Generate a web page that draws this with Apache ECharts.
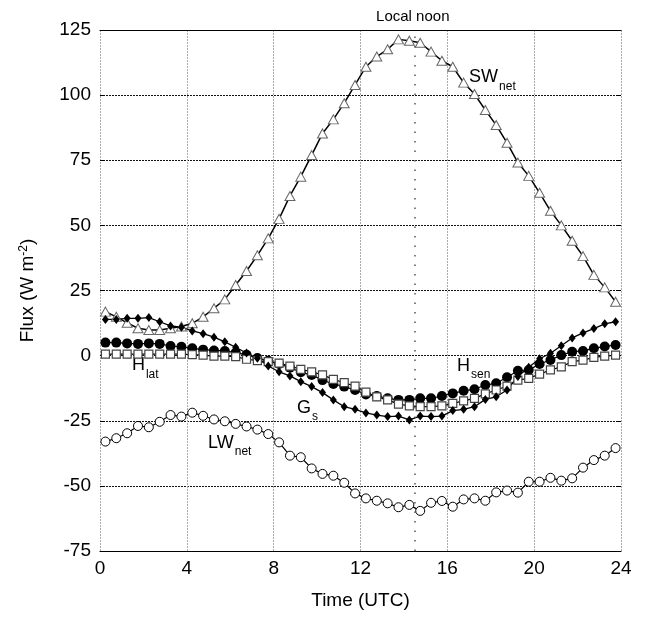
<!DOCTYPE html>
<html><head><meta charset="utf-8">
<script src="https://cdn.jsdelivr.net/npm/echarts@6/dist/echarts.min.js"></script>
<style>html,body{margin:0;padding:0;background:#fff}#c{width:645px;height:620px}</style>
</head><body><div id="c"></div>
<script>
const timeUTC = [0.25,0.75,1.25,1.75,2.25,2.75,3.25,3.75,4.25,4.75,5.25,5.75,6.25,6.75,7.25,7.75,8.25,8.75,9.25,9.75,10.25,10.75,11.25,11.75,12.25,12.75,13.25,13.75,14.25,14.75,15.25,15.75,16.25,16.75,17.25,17.75,18.25,18.75,19.25,19.75,20.25,20.75,21.25,21.75,22.25,22.75,23.25,23.75];
const swNet = [16.9,14.9,12.6,10.5,9.8,9.8,10.5,11.2,12.4,14.9,18.2,21.6,27.1,32.5,38.5,45.0,52.5,61.3,68.7,77.0,85.3,90.7,96.9,103.9,110.9,114.8,117.6,121.4,120.9,120.1,116.7,113.2,110.9,104.8,100.4,94.3,88.5,81.7,74.1,69.0,62.5,55.6,50.0,44.1,38.2,31.0,26.2,20.7];
const lwNet = [-33.0,-31.7,-29.8,-27.0,-27.5,-25.4,-22.8,-23.4,-21.9,-23.1,-24.5,-25.2,-26.2,-27.2,-28.4,-30.1,-33.3,-38.4,-39.0,-43.3,-45.4,-46.1,-48.8,-52.9,-54.8,-55.7,-56.7,-58.2,-57.3,-59.6,-56.5,-55.8,-58.0,-55.2,-54.8,-55.7,-52.5,-51.8,-52.6,-48.4,-48.4,-46.9,-48.0,-47.1,-43.0,-40.1,-38.4,-35.5];
const hSen = [5.0,5.0,4.7,4.5,4.7,4.5,3.7,3.4,2.8,2.3,2.0,1.8,1.2,0.3,-0.9,-2.0,-3.2,-4.6,-6.4,-7.4,-9.4,-10.9,-11.9,-13.2,-14.9,-15.5,-16.4,-17.0,-17.0,-16.4,-16.4,-15.5,-14.5,-13.5,-12.9,-11.3,-10.6,-8.3,-5.8,-5.5,-3.2,-1.7,0.2,1.5,1.8,2.8,3.5,4.1];
const hLat = [0.6,0.6,0.6,0.6,0.6,0.6,0.6,0.6,0.4,0.2,-0.2,-0.2,-0.4,-1.4,-1.9,-2.3,-2.9,-4.0,-5.3,-6.2,-7.4,-9.1,-10.4,-11.7,-14.0,-15.8,-17.0,-18.6,-19.3,-19.6,-19.6,-19.3,-18.3,-17.4,-16.4,-14.7,-13.2,-11.7,-9.4,-8.7,-7.1,-5.5,-4.3,-2.3,-1.7,-0.7,-0.2,0.2];
const gS = [13.9,13.9,14.3,14.3,14.6,13.0,11.4,10.9,9.5,8.4,7.1,5.3,3.2,1.0,-1.0,-4.0,-6.2,-7.8,-10.0,-11.9,-14.2,-17.0,-19.6,-20.6,-22.0,-22.8,-23.4,-23.2,-24.7,-23.2,-23.4,-23.2,-21.1,-20.6,-19.6,-16.8,-15.8,-13.2,-8.0,-4.5,-1.2,0.9,3.8,6.8,8.7,10.4,12.2,13.0];
const xTickValues = [0,4,8,12,16,20,24];
const yTickValues = [-75,-50,-25,0,25,50,75,100,125];
const localNoonTime = 14.5;
const noonLabel = 'Local noon';
const xTitle = 'Time (UTC)';
// label text: [main, subscript, time anchor, flux anchor]
const seriesLabels = [
  ['SW','net',17.0,106.8],
  ['H','sen',16.45,-4.0],
  ['H','lat',1.47,-3.8],
  ['G','s',9.07,-20.1],
  ['LW','net',4.98,-33.5]
];

const FONT = '"Liberation Sans", Arial, Helvetica, sans-serif';
const chart = echarts.init(document.getElementById('c'), null, {renderer:'canvas'});
const pair = (ys) => timeUTC.map((t,i)=>[t, ys[i]]);

const option = {
  backgroundColor:'#fff',
  animation:false,
  grid:{left:100, right:24, top:30, bottom:69, containLabel:false},
  xAxis:[{
    type:'value', min:0, max:24, interval:4,
    name: xTitle, nameLocation:'middle', nameGap:40,
    nameTextStyle:{fontFamily:FONT, fontSize:19, color:'#000'},
    axisLine:{show:true, onZero:false, lineStyle:{color:'#000', width:1.2}},
    axisTick:{show:false},
    axisLabel:{fontFamily:FONT, fontSize:19, color:'#000', margin:8,
      formatter:(v)=> xTickValues.includes(v)? String(v):''},
    splitLine:{show:true, lineStyle:{color:'#aaa', width:1, type:[2,1]}}
  },{
    type:'value', min:0, max:24, interval:4, position:'top',
    axisLine:{show:true, onZero:false, lineStyle:{color:'#000', width:1.2}},
    axisTick:{show:false}, axisLabel:{show:false}, splitLine:{show:false}
  }],
  yAxis:[{
    type:'value', min:-75, max:125, interval:25,
    name:'{a|Flux (W m}{s|-2}{a|)}', nameLocation:'middle', nameGap:62, nameRotate:90,
    nameTextStyle:{rich:{
      a:{fontFamily:FONT, fontSize:19, color:'#000'},
      s:{fontFamily:FONT, fontSize:12, color:'#000', verticalAlign:'top', padding:[0,0,8,0]}
    }},
    axisLine:{show:false, onZero:false},
    axisTick:{show:true, inside:true, length:5, lineStyle:{color:'#000'}},
    axisLabel:{fontFamily:FONT, fontSize:19, color:'#000', margin:9,
      formatter:(v)=> yTickValues.includes(v)? String(v):''},
    splitLine:{show:true, lineStyle:{color:'#111', width:1, type:[2,1]}}
  },{
    type:'value', min:-75, max:125, interval:25, position:'right',
    axisLine:{show:false, onZero:false},
    axisTick:{show:true, inside:true, length:5, lineStyle:{color:'#000'}},
    axisLabel:{show:false}, splitLine:{show:false}
  }],
  series:[
    {name:'SW', type:'line', data:pair(swNet), symbol:'triangle', symbolSize:[10,9],
     lineStyle:{color:'#000', width:1.5}, itemStyle:{color:'#fff', borderColor:'#666', borderWidth:1},
     markLine:{silent:true, symbol:'none', label:{show:false},
       lineStyle:{color:'#555', width:1.5, type:[1.5,8]},
       data:[{xAxis:localNoonTime}]}},
    {name:'LW', type:'line', data:pair(lwNet), symbol:'circle', symbolSize:9,
     lineStyle:{color:'#000', width:1.2}, itemStyle:{color:'#fff', borderColor:'#000', borderWidth:1}},
    {name:'Hsen', type:'line', data:pair(hSen), symbol:'circle', symbolSize:10,
     lineStyle:{color:'#000', width:1.2}, itemStyle:{color:'#000', borderColor:'#000', borderWidth:0}},
    {name:'Hlat', type:'line', data:pair(hLat), symbol:'rect', symbolSize:8,
     lineStyle:{color:'#000', width:1.2}, itemStyle:{color:'#fff', borderColor:'#444', borderWidth:1.2}},
    {name:'Gs', type:'line', data:pair(gS), symbol:'diamond', symbolSize:[7,9],
     lineStyle:{color:'#000', width:1.3}, itemStyle:{color:'#000', borderWidth:0}}
  ]
};
chart.setOption(option);

// annotation labels placed at data coordinates
const ctx = document.createElement('canvas').getContext('2d');
function textW(s, size){ ctx.font = size + 'px ' + FONT; return ctx.measureText(s).width; }
const elements = [];
seriesLabels.forEach(([m, s, t, v])=>{
  const p = chart.convertToPixel({gridIndex:0}, [t, v]);
  const w = textW(m, 18);
  elements.push({type:'text', x:p[0], y:p[1], style:{text:m, font:'18px '+FONT, fill:'#000', align:'left', verticalAlign:'middle'}});
  elements.push({type:'text', x:p[0]+w+1, y:p[1]+9, style:{text:s, font:'12px '+FONT, fill:'#000', align:'left', verticalAlign:'middle'}});
});
const pn = chart.convertToPixel({gridIndex:0}, [localNoonTime, 125]);
elements.push({type:'text', x:pn[0]-2, y:pn[1]-13, style:{text:noonLabel, font:'15px '+FONT, fill:'#000', align:'center', verticalAlign:'middle'}});
chart.setOption({graphic:{elements}});
</script></body></html>
